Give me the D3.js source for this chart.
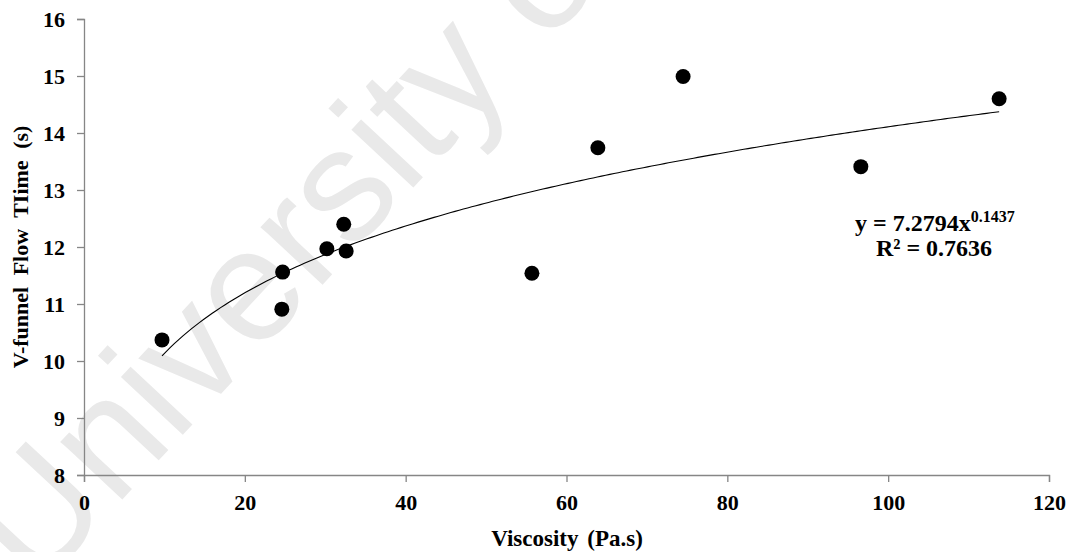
<!DOCTYPE html>
<html><head><meta charset="utf-8">
<script src="https://cdn.jsdelivr.net/npm/d3@7"></script>
<style>body{margin:0;background:#fff}svg{display:block}</style>
</head><body>
<script>
const viscosity = [9.7, 24.7, 24.6, 30.2, 32.3, 32.6, 55.7, 63.9, 74.5, 96.6, 113.8];
const flowTime  = [10.37, 11.56, 10.91, 11.97, 12.40, 11.93, 11.54, 13.74, 14.99, 13.41, 14.60];
const xTicks = [0, 20, 40, 60, 80, 100, 120];
const yTicks = [8, 9, 10, 11, 12, 13, 14, 15, 16];
const fitA = 7.2794, fitB = 0.1437;
const fitRange = [9.7, 113.8];

const W = 1073, H = 552;
const svg = d3.select("body").append("svg").attr("width", W).attr("height", H);

// watermark
svg.append("text").attr("transform", "translate(36,592) rotate(-47)")
  .attr("font-family", "Liberation Sans, Arial, sans-serif").attr("font-size", 160)
  .attr("fill", "#e9e9e9").text("University of Malaya");

const x = d3.scaleLinear().domain([0, 120]).range([84, 1049]);
const y = d3.scaleLinear().domain([8, 16]).range([475, 19]);
const serif = "Liberation Serif, Times New Roman, serif";
const axisColor = "#868686";

const gx = svg.append("g").attr("transform", `translate(0,${y(8)})`)
  .call(d3.axisBottom(x).tickValues(xTicks).tickSize(7).tickPadding(12).tickFormat(d3.format("d")));
const gy = svg.append("g").attr("transform", `translate(${x(0)},0)`)
  .call(d3.axisLeft(y).tickValues(yTicks).tickSize(7).tickPadding(12).tickFormat(d3.format("d")));
[gx, gy].forEach(g => {
  g.select(".domain").attr("stroke", axisColor).attr("stroke-width", 1.3);
  g.selectAll(".tick line").attr("stroke", axisColor).attr("stroke-width", 1.3);
  g.selectAll(".tick text").attr("fill", "#000").attr("font-family", serif)
    .attr("font-weight", "bold").attr("font-size", 22);
});
gx.selectAll(".tick text").attr("dy", "0.71em");

// trend line
const fitData = d3.range(fitRange[0], fitRange[1] + 0.001, (fitRange[1] - fitRange[0]) / 200)
  .map(v => [v, fitA * Math.pow(v, fitB)]);
svg.append("path").datum(fitData).attr("fill", "none").attr("stroke", "#000").attr("stroke-width", 1.1)
  .attr("d", d3.line().x(d => x(d[0])).y(d => y(d[1])));

// points
svg.append("g").selectAll("circle").data(viscosity).join("circle")
  .attr("cx", d => x(d)).attr("cy", (d, i) => y(flowTime[i])).attr("r", 7.5).attr("fill", "#000");

// equation
const eq = svg.append("text").attr("x", 855).attr("y", 231).attr("font-family", serif)
  .attr("font-weight", "bold").attr("font-size", 24);
eq.append("tspan").text(`y = ${fitA}x`);
eq.append("tspan").attr("dy", -9).attr("font-size", 16).text(fitB);
svg.append("text").attr("x", 934).attr("y", 256).attr("text-anchor", "middle").attr("font-family", serif)
  .attr("font-weight", "bold").attr("font-size", 24).text("R² = 0.7636");

// axis titles
svg.append("text").attr("x", 567).attr("y", 546).attr("text-anchor", "middle").attr("font-family", serif)
  .attr("font-weight", "bold").attr("font-size", 23).attr("word-spacing", 3).text("Viscosity (Pa.s)");
svg.append("text").attr("transform", "translate(28,247) rotate(-90)").attr("text-anchor", "middle")
  .attr("font-family", serif).attr("font-weight", "bold").attr("font-size", 22).attr("word-spacing", 6)
  .text("V-funnel Flow TIime (s)");
</script>
</body></html>
